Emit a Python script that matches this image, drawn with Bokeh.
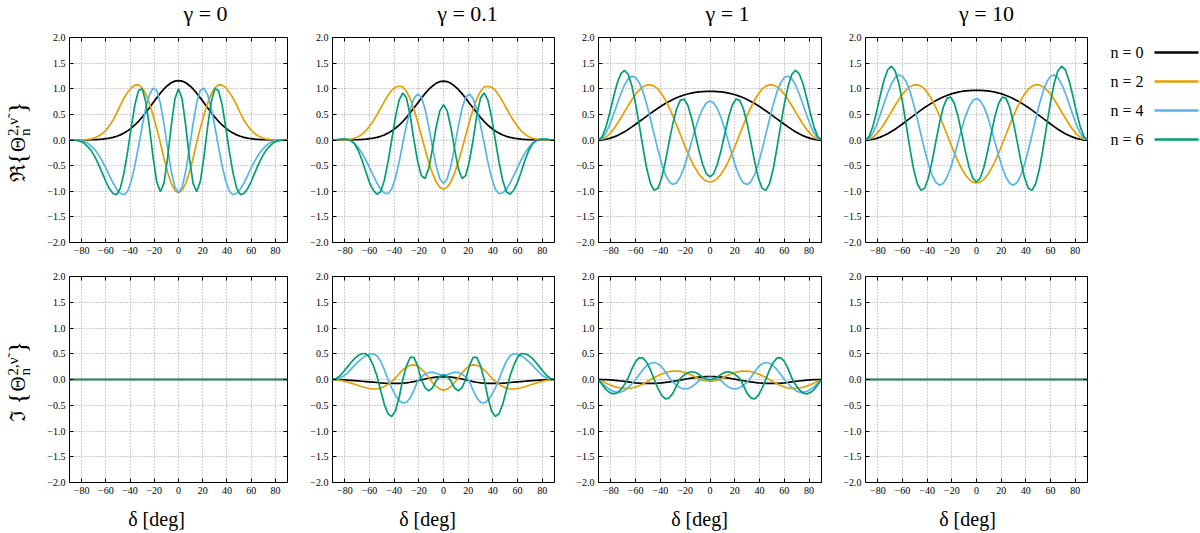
import math
from bokeh.plotting import figure
from bokeh.layouts import gridplot, column
from bokeh.models import Range1d, FixedTicker, LinearAxis
from bokeh.core.properties import value
from bokeh.embed import file_html
from bokeh.resources import INLINE

# sampling of the curves, deg
delta = list(range(-90, 91, 3))

gammas = ["0", "0.1", "1", "10"]
orders = ["n = 0", "n = 2", "n = 4", "n = 6"]
colors = ["#000000", "#E69F00", "#56B4E9", "#009E73"]

x_ticks = [-80, -60, -40, -20, 0, 20, 40, 60, 80]
y_ticks = [-2.0, -1.5, -1.0, -0.5, 0.0, 0.5, 1.0, 1.5, 2.0]

# real part, gamma = 0
re_g0_n0 = [0.0, 0.0, 0.0, 0.001, 0.002, 0.003, 0.005, 0.007, 0.011, 0.017, 0.025, 0.037, 0.052, 0.073, 0.100,
            0.135, 0.178, 0.231, 0.293, 0.365, 0.446, 0.535, 0.630, 0.726, 0.822, 0.914, 0.996, 1.064, 1.117, 1.149,
            1.16,
            1.149, 1.117, 1.064, 0.996, 0.914, 0.822, 0.726, 0.630, 0.535, 0.446, 0.365, 0.293, 0.231, 0.178, 0.135,
            0.100, 0.073, 0.052, 0.037, 0.025, 0.017, 0.011, 0.007, 0.005, 0.003, 0.002, 0.001, 0.0, 0.0, 0.0]
re_g0_n2 = [0.0, 0.0, 0.0, 0.001, 0.004, 0.011, 0.023, 0.044, 0.078, 0.125, 0.19, 0.28, 0.39, 0.53, 0.68,
            0.82, 0.93, 1.02, 1.07, 1.076, 1.018, 0.894, 0.714, 0.486, 0.228, -0.052, -0.360, -0.630, -0.846, -0.983,
            -1.03,
            -0.983, -0.846, -0.630, -0.360, -0.052, 0.228, 0.486, 0.714, 0.894, 1.018, 1.076, 1.07, 1.02, 0.93, 0.82,
            0.68, 0.53, 0.39, 0.28, 0.19, 0.125, 0.078, 0.044, 0.023, 0.011, 0.004, 0.001, 0.0, 0.0, 0.0]
re_g0_n4 = [0.0, 0.0, -0.004, -0.012, -0.03, -0.06, -0.121, -0.191, -0.287, -0.407, -0.546, -0.696, -0.84, -0.96, -1.04,
            -1.07, -1.000, -0.801, -0.497, -0.129, 0.264, 0.621, 0.883, 1.011, 0.970, 0.721, 0.315, -0.161, -0.606, -0.918,
            -1.03,
            -0.918, -0.606, -0.161, 0.315, 0.721, 0.970, 1.011, 0.883, 0.621, 0.264, -0.129, -0.497, -0.801, -1.000, -1.07,
            -1.04, -0.96, -0.84, -0.696, -0.546, -0.407, -0.287, -0.191, -0.121, -0.06, -0.03, -0.012, -0.004, 0.0, 0.0]
re_g0_n6 = [0.0, -0.002, -0.008, -0.025, -0.06, -0.127, -0.211, -0.329, -0.476, -0.643, -0.81, -0.952, -1.045, -1.067, -0.939,
            -0.641, -0.227, 0.250, 0.690, 0.965, 1.002, 0.741, 0.249, -0.335, -0.812, -1.01, -0.841, -0.352, 0.276, 0.799,
            1.0,
            0.799, 0.276, -0.352, -0.841, -1.01, -0.812, -0.335, 0.249, 0.741, 1.002, 0.965, 0.690, 0.250, -0.227, -0.641,
            -0.939, -1.067, -1.045, -0.952, -0.81, -0.643, -0.476, -0.329, -0.211, -0.127, -0.06, -0.025, -0.008, -0.002, 0.0]

# real part, gamma = 0.1
re_g1_n0 = [0.0, 0.0, 0.0, 0.001, 0.002, 0.003, 0.005, 0.007, 0.011, 0.017, 0.025, 0.037, 0.051, 0.072, 0.099,
            0.134, 0.176, 0.229, 0.290, 0.361, 0.442, 0.530, 0.624, 0.719, 0.814, 0.905, 0.986, 1.053, 1.106, 1.138,
            1.148,
            1.138, 1.106, 1.053, 0.986, 0.905, 0.814, 0.719, 0.624, 0.530, 0.442, 0.361, 0.290, 0.229, 0.176, 0.134,
            0.099, 0.072, 0.051, 0.037, 0.025, 0.017, 0.011, 0.007, 0.005, 0.003, 0.002, 0.001, 0.0, 0.0, 0.0]
re_g1_n2 = [0.0, 0.0, 0.0, 0.002, 0.006, 0.016, 0.035, 0.065, 0.115, 0.18, 0.27, 0.37, 0.49, 0.62, 0.75,
            0.87, 0.97, 1.03, 1.048, 1.034, 0.951, 0.805, 0.602, 0.359, 0.091, -0.176, -0.428, -0.646, -0.816, -0.923,
            -0.96,
            -0.923, -0.816, -0.646, -0.428, -0.176, 0.091, 0.359, 0.602, 0.805, 0.951, 1.034, 1.048, 1.03, 0.97, 0.87,
            0.75, 0.62, 0.49, 0.37, 0.27, 0.18, 0.115, 0.065, 0.035, 0.016, 0.006, 0.002, 0.0, 0.0, 0.0]
re_g1_n4 = [0.0, 0.005, 0.012, 0.018, 0.01, -0.02, -0.07, -0.15, -0.26, -0.39, -0.54, -0.69, -0.84, -0.96, -1.03,
            -1.048, -0.958, -0.742, -0.431, -0.063, 0.290, 0.593, 0.807, 0.898, 0.838, 0.612, 0.265, -0.133, -0.500, -0.757,
            -0.85,
            -0.757, -0.500, -0.133, 0.265, 0.612, 0.838, 0.898, 0.807, 0.593, 0.290, -0.063, -0.431, -0.742, -0.958, -1.048,
            -1.03, -0.96, -0.84, -0.69, -0.54, -0.39, -0.26, -0.15, -0.07, -0.02, 0.01, 0.018, 0.012, 0.005, 0.0]
re_g1_n6 = [0.0, 0.005, 0.012, 0.02, 0.015, -0.01, -0.08, -0.21, -0.40, -0.62, -0.83, -0.98, -1.057, -1.010, -0.790,
            -0.433, 0.0, 0.441, 0.776, 0.918, 0.818, 0.479, 0.0, -0.413, -0.694, -0.751, -0.558, -0.177, 0.244, 0.568,
            0.69,
            0.568, 0.244, -0.177, -0.558, -0.751, -0.694, -0.413, 0.0, 0.479, 0.818, 0.918, 0.776, 0.441, 0.0, -0.433,
            -0.790, -1.010, -1.057, -0.98, -0.83, -0.62, -0.40, -0.21, -0.08, -0.01, 0.015, 0.02, 0.012, 0.005, 0.0]

# real part, gamma = 1
re_g2_n0 = [0.0, 0.004, 0.014, 0.031, 0.055, 0.085, 0.121, 0.162, 0.207, 0.256, 0.307, 0.360, 0.413, 0.467, 0.520,
            0.572, 0.621, 0.668, 0.712, 0.753, 0.790, 0.823, 0.852, 0.877, 0.898, 0.915, 0.928, 0.938, 0.945, 0.949,
            0.95,
            0.949, 0.945, 0.938, 0.928, 0.915, 0.898, 0.877, 0.852, 0.823, 0.790, 0.753, 0.712, 0.668, 0.621, 0.572,
            0.520, 0.467, 0.413, 0.360, 0.307, 0.256, 0.207, 0.162, 0.121, 0.085, 0.055, 0.031, 0.014, 0.004, 0.0]
re_g2_n2 = [0.0, 0.014, 0.054, 0.120, 0.207, 0.311, 0.428, 0.551, 0.673, 0.789, 0.893, 0.978, 1.040, 1.074, 1.078,
            1.051, 0.991, 0.900, 0.780, 0.636, 0.473, 0.295, 0.111, -0.072, -0.246, -0.406, -0.547, -0.663, -0.749, -0.802,
            -0.82,
            -0.802, -0.749, -0.663, -0.547, -0.406, -0.246, -0.072, 0.111, 0.295, 0.473, 0.636, 0.780, 0.900, 0.991, 1.051,
            1.078, 1.074, 1.040, 0.978, 0.893, 0.789, 0.673, 0.551, 0.428, 0.311, 0.207, 0.120, 0.054, 0.014, 0.0]
re_g2_n4 = [0.0, 0.035, 0.136, 0.293, 0.487, 0.698, 0.901, 1.074, 1.194, 1.247, 1.221, 1.115, 0.934, 0.691, 0.405,
            0.101, -0.197, -0.464, -0.675, -0.814, -0.869, -0.837, -0.723, -0.539, -0.305, -0.043, 0.206, 0.429, 0.607, 0.721,
            0.76,
            0.721, 0.607, 0.429, 0.206, -0.043, -0.305, -0.539, -0.723, -0.837, -0.869, -0.814, -0.675, -0.464, -0.197, 0.101,
            0.405, 0.691, 0.934, 1.115, 1.221, 1.247, 1.194, 1.074, 0.901, 0.698, 0.487, 0.293, 0.136, 0.035, 0.0]
re_g2_n6 = [0.0, 0.066, 0.252, 0.523, 0.825, 1.102, 1.294, 1.360, 1.277, 1.047, 0.698, 0.279, -0.162, -0.567, -0.853,
            -0.983, -0.941, -0.738, -0.417, -0.036, 0.319, 0.605, 0.774, 0.801, 0.684, 0.444, 0.127, -0.194, -0.467, -0.654,
            -0.72,
            -0.654, -0.467, -0.194, 0.127, 0.444, 0.684, 0.801, 0.774, 0.605, 0.319, -0.036, -0.417, -0.738, -0.941, -0.983,
            -0.853, -0.567, -0.162, 0.279, 0.698, 1.047, 1.277, 1.360, 1.294, 1.102, 0.825, 0.523, 0.252, 0.066, 0.0]

# real part, gamma = 10
re_g3_n0 = [0.0, 0.004, 0.014, 0.032, 0.056, 0.087, 0.123, 0.165, 0.211, 0.261, 0.313, 0.367, 0.421, 0.476, 0.530,
            0.583, 0.633, 0.681, 0.726, 0.768, 0.806, 0.839, 0.869, 0.895, 0.916, 0.933, 0.947, 0.957, 0.964, 0.968,
            0.969,
            0.968, 0.964, 0.957, 0.947, 0.933, 0.916, 0.895, 0.869, 0.839, 0.806, 0.768, 0.726, 0.681, 0.633, 0.583,
            0.530, 0.476, 0.421, 0.367, 0.313, 0.261, 0.211, 0.165, 0.123, 0.087, 0.056, 0.032, 0.014, 0.004, 0.0]
re_g3_n2 = [0.0, 0.014, 0.054, 0.120, 0.207, 0.311, 0.428, 0.551, 0.673, 0.789, 0.893, 0.978, 1.040, 1.074, 1.078,
            1.051, 0.991, 0.900, 0.780, 0.636, 0.473, 0.295, 0.111, -0.074, -0.252, -0.416, -0.560, -0.679, -0.767, -0.821,
            -0.84,
            -0.821, -0.767, -0.679, -0.560, -0.416, -0.252, -0.074, 0.111, 0.295, 0.473, 0.636, 0.780, 0.900, 0.991, 1.051,
            1.078, 1.074, 1.040, 0.978, 0.893, 0.789, 0.673, 0.551, 0.428, 0.311, 0.207, 0.120, 0.054, 0.014, 0.0]
re_g3_n4 = [0.0, 0.036, 0.138, 0.298, 0.496, 0.711, 0.917, 1.093, 1.215, 1.269, 1.243, 1.135, 0.951, 0.703, 0.412,
            0.103, -0.200, -0.470, -0.684, -0.825, -0.880, -0.848, -0.732, -0.546, -0.309, -0.044, 0.220, 0.457, 0.647, 0.769,
            0.81,
            0.769, 0.647, 0.457, 0.220, -0.044, -0.309, -0.546, -0.732, -0.848, -0.880, -0.825, -0.684, -0.470, -0.200, 0.103,
            0.412, 0.703, 0.951, 1.135, 1.243, 1.269, 1.215, 1.093, 0.917, 0.711, 0.496, 0.298, 0.138, 0.036, 0.0]
re_g3_n6 = [0.0, 0.070, 0.267, 0.554, 0.874, 1.167, 1.370, 1.440, 1.352, 1.109, 0.739, 0.295, -0.162, -0.567, -0.853,
            -0.983, -0.941, -0.738, -0.417, -0.036, 0.335, 0.635, 0.812, 0.840, 0.718, 0.466, 0.133, -0.221, -0.532, -0.745,
            -0.82,
            -0.745, -0.532, -0.221, 0.133, 0.466, 0.718, 0.840, 0.812, 0.635, 0.335, -0.036, -0.417, -0.738, -0.941, -0.983,
            -0.853, -0.567, -0.162, 0.295, 0.739, 1.109, 1.352, 1.440, 1.370, 1.167, 0.874, 0.554, 0.267, 0.070, 0.0]

# imaginary part, gamma = 0.1
im_g1_n0 = [0.0, -0.001, -0.004, -0.008, -0.012, -0.017, -0.022, -0.028, -0.034, -0.040, -0.046, -0.052, -0.058, -0.064, -0.069,
            -0.073, -0.075, -0.075, -0.074, -0.071, -0.064, -0.054, -0.041, -0.025, -0.008, 0.009, 0.024, 0.036, 0.045, 0.049,
            0.050,
            0.049, 0.045, 0.036, 0.024, 0.009, -0.008, -0.025, -0.041, -0.054, -0.064, -0.071, -0.074, -0.075, -0.075, -0.073,
            -0.069, -0.064, -0.058, -0.052, -0.046, -0.040, -0.034, -0.028, -0.022, -0.017, -0.012, -0.008, -0.004, -0.001, 0.0]
im_g1_n2 = [0.0, -0.004, -0.015, -0.030, -0.049, -0.070, -0.093, -0.117, -0.140, -0.160, -0.175, -0.183, -0.184, -0.169, -0.137,
            -0.093, -0.038, 0.029, 0.112, 0.186, 0.242, 0.276, 0.285, 0.262, 0.207, 0.128, 0.033, -0.058, -0.134, -0.187,
            -0.205,
            -0.187, -0.134, -0.058, 0.033, 0.128, 0.207, 0.262, 0.285, 0.276, 0.242, 0.186, 0.112, 0.029, -0.038, -0.093,
            -0.137, -0.169, -0.184, -0.183, -0.175, -0.160, -0.140, -0.117, -0.093, -0.070, -0.049, -0.030, -0.015, -0.004, 0.0]
im_g1_n4 = [0.0, 0.008, 0.03, 0.065, 0.125, 0.20, 0.28, 0.35, 0.41, 0.46, 0.49, 0.50, 0.462, 0.354, 0.191,
            0.0, -0.163, -0.305, -0.407, -0.457, -0.443, -0.357, -0.212, -0.031, 0.051, 0.103, 0.136, 0.143, 0.120, 0.095,
            0.085,
            0.095, 0.120, 0.143, 0.136, 0.103, 0.051, -0.031, -0.212, -0.357, -0.443, -0.457, -0.407, -0.305, -0.163, 0.0,
            0.191, 0.354, 0.462, 0.50, 0.49, 0.46, 0.41, 0.35, 0.28, 0.20, 0.125, 0.065, 0.03, 0.008, 0.0]
im_g1_n6 = [0.0, 0.02, 0.07, 0.15, 0.24, 0.33, 0.41, 0.47, 0.50, 0.505, 0.429, 0.276, 0.073, -0.209, -0.482,
            -0.664, -0.719, -0.611, -0.349, 0.0, 0.265, 0.428, 0.428, 0.265, 0.0, -0.156, -0.22, -0.165, -0.026, 0.056,
            0.085,
            0.056, -0.026, -0.165, -0.22, -0.156, 0.0, 0.265, 0.428, 0.428, 0.265, 0.0, -0.349, -0.611, -0.719, -0.664,
            -0.482, -0.209, 0.073, 0.276, 0.429, 0.505, 0.50, 0.47, 0.41, 0.33, 0.24, 0.15, 0.07, 0.02, 0.0]

# imaginary part, gamma = 1
im_g2_n0 = [0.0, -0.001, -0.003, -0.007, -0.013, -0.020, -0.029, -0.038, -0.047, -0.056, -0.064, -0.070, -0.074, -0.076, -0.076,
            -0.074, -0.070, -0.064, -0.056, -0.047, -0.036, -0.024, -0.011, 0.002, 0.014, 0.026, 0.036, 0.045, 0.051, 0.054,
            0.055,
            0.054, 0.051, 0.045, 0.036, 0.026, 0.014, 0.002, -0.011, -0.024, -0.036, -0.047, -0.056, -0.064, -0.070, -0.074,
            -0.076, -0.076, -0.074, -0.070, -0.064, -0.056, -0.047, -0.038, -0.029, -0.020, -0.013, -0.007, -0.003, -0.001, 0.0]
im_g2_n2 = [0.0, -0.036, -0.070, -0.101, -0.128, -0.150, -0.165, -0.173, -0.174, -0.166, -0.146, -0.118, -0.083, -0.043, 0.0,
            0.038, 0.075, 0.107, 0.133, 0.152, 0.163, 0.165, 0.157, 0.141, 0.117, 0.086, 0.051, 0.013, -0.013, -0.029,
            -0.035,
            -0.029, -0.013, 0.013, 0.051, 0.086, 0.117, 0.141, 0.157, 0.165, 0.163, 0.152, 0.133, 0.107, 0.075, 0.038,
            0.0, -0.043, -0.083, -0.118, -0.146, -0.166, -0.174, -0.173, -0.165, -0.150, -0.128, -0.101, -0.070, -0.036, 0.0]
im_g2_n4 = [0.0, -0.073, -0.139, -0.193, -0.231, -0.249, -0.244, -0.212, -0.156, -0.083, 0.0, 0.103, 0.196, 0.269, 0.316,
            0.33, 0.306, 0.244, 0.151, 0.039, -0.048, -0.113, -0.160, -0.183, -0.179, -0.147, -0.093, -0.024, 0.015, 0.033,
            0.04,
            0.033, 0.015, -0.024, -0.093, -0.147, -0.179, -0.183, -0.160, -0.113, -0.048, 0.039, 0.151, 0.244, 0.306, 0.33,
            0.316, 0.269, 0.196, 0.103, 0.0, -0.083, -0.156, -0.212, -0.244, -0.249, -0.231, -0.193, -0.139, -0.073, 0.0]
im_g2_n6 = [0.0, -0.103, -0.192, -0.253, -0.279, -0.262, -0.198, -0.098, 0.031, 0.211, 0.351, 0.423, 0.415, 0.329, 0.182,
            0.0, -0.173, -0.307, -0.375, -0.361, -0.269, -0.117, 0.022, 0.084, 0.130, 0.15, 0.139, 0.100, 0.049, 0.006,
            -0.01,
            0.006, 0.049, 0.100, 0.139, 0.15, 0.130, 0.084, 0.022, -0.117, -0.269, -0.361, -0.375, -0.307, -0.173, 0.0,
            0.182, 0.329, 0.415, 0.423, 0.351, 0.211, 0.031, -0.098, -0.198, -0.262, -0.279, -0.253, -0.192, -0.103, 0.0]

# imaginary part is zero for gamma = 0 and gamma = 10
im_flat = [0.0] * len(delta)

real = [
    [re_g0_n0, re_g0_n2, re_g0_n4, re_g0_n6],
    [re_g1_n0, re_g1_n2, re_g1_n4, re_g1_n6],
    [re_g2_n0, re_g2_n2, re_g2_n4, re_g2_n6],
    [re_g3_n0, re_g3_n2, re_g3_n4, re_g3_n6],
]
imag = [
    [im_flat, im_flat, im_flat, im_flat],
    [im_g1_n0, im_g1_n2, im_g1_n4, im_g1_n6],
    [im_g2_n0, im_g2_n2, im_g2_n4, im_g2_n6],
    [im_flat, im_flat, im_flat, im_flat],
]
for group in real + imag:
    for ys in group:
        assert len(ys) == len(delta)

SERIF = "Liberation Serif"
W = 1200
left_border = [21, 37, 36, 36]
frame_w = [222, 222, 223, 222]
TOP = dict(border_top=11, frame=205, border_bottom=20)
BOT = dict(border_top=14, frame=206, border_bottom=20)
YLAB_W, LEG_W = 44, 105
TITLE_H, XLAB_H = 26, 31
title_x = [205, 467, 727, 986]
xlabel_x = [156, 427, 699, 967]


def minus(s):
    return s.replace("-", "\u2212")


def strip(width, height):
    # blank figure whose frame is the whole canvas, y measured from the top
    f = figure(width=width, height=height, x_range=Range1d(0, width), y_range=Range1d(height, 0),
               title=None, output_backend="svg", toolbar_location=None, tools="",
               x_axis_type=None, y_axis_type=None, min_border=0, outline_line_color=None)
    f.grid.visible = False
    return f


def side(width, s):
    # blank figure with the same frame rows as the panels, y in panel units
    f = figure(width=width, height=s["border_top"] + s["frame"] + s["border_bottom"],
               x_range=Range1d(0, width), y_range=Range1d(-2, 2), title=None,
               min_border_left=0, min_border_right=0,
               min_border_top=s["border_top"], min_border_bottom=s["border_bottom"],
               output_backend="svg", toolbar_location=None, tools="",
               x_axis_type=None, y_axis_type=None, outline_line_color=None)
    f.grid.visible = False
    return f


def style_axis(ax, ticks, labels):
    ax.ticker = FixedTicker(ticks=ticks)
    ax.axis_line_color = None
    ax.major_tick_in = 4
    ax.major_tick_out = 0
    ax.major_tick_line_color = "black"
    ax.minor_tick_line_color = None
    if labels is None:
        ax.major_label_overrides = {t: "" for t in ticks}
        ax.major_label_text_font_size = "0px"
        ax.major_label_standoff = 0
    else:
        ax.major_label_overrides = {t: minus(l) for t, l in zip(ticks, labels)}
        ax.major_label_text_font = SERIF
        ax.major_label_text_font_size = "10px"
        ax.major_label_text_color = "black"
        ax.major_label_standoff = 4


def panel(col, s, curves):
    p = figure(width=left_border[col] + frame_w[col] + 8,
               height=s["border_top"] + s["frame"] + s["border_bottom"],
               x_range=Range1d(-90, 90), y_range=Range1d(-2, 2), title=None,
               min_border_left=left_border[col], min_border_right=8,
               min_border_top=s["border_top"], min_border_bottom=s["border_bottom"],
               output_backend="svg", toolbar_location=None, tools="",
               background_fill_color="white", border_fill_color="white",
               outline_line_color="black", outline_line_width=1)
    p.add_layout(LinearAxis(), "right")
    p.add_layout(LinearAxis(), "above")
    style_axis(p.below[0], x_ticks, [str(t) for t in x_ticks])
    style_axis(p.left[0], y_ticks, [f"{t:.1f}" for t in y_ticks])
    style_axis(p.above[0], x_ticks, None)
    style_axis(p.right[0], y_ticks, None)

    p.xgrid.ticker = FixedTicker(ticks=x_ticks)
    p.ygrid.ticker = FixedTicker(ticks=y_ticks)
    p.grid.grid_line_color = "#9a9a9a"
    p.grid.grid_line_dash = "1 2"
    p.grid.grid_line_width = 1

    for ys, c in zip(curves, colors):
        p.line(delta, ys, line_color=c, line_width=1.7)
    return p


def ylabel_fig(part, s):
    # Re/Im { Theta_n^{2,nu~} }, written bottom to top; offsets in px from the frame centre
    f = side(YLAB_W, s)
    unit = 4 / s["frame"]
    pieces = [
        (part, -42, 5, "21px"),
        ("{", -25, 2, "26px"),
        ("Θ", -12, 5, "21px"),
        ("n", 4, 16, "15px"),
        ("2,ν̃", 4, 4, "15px"),
        ("}", 26, 2, "26px"),
    ]
    for text, off, x, size in pieces:
        f.text(x=[x], y=[off * unit], text=[text], angle=math.pi / 2, text_align="left",
               text_baseline="top", text_font=value(SERIF), text_font_size=size,
               text_color="black")
    return f


top_row = [panel(i, TOP, real[i]) for i in range(4)]
bottom_row = [panel(i, BOT, imag[i]) for i in range(4)]

# legend: label on the left, line sample on the right; rows in px below the frame top
leg = side(LEG_W, TOP)
unit = 4 / TOP["frame"]
rows_px = [15 + 29 * i for i in range(len(orders))]
leg.text(x=[48] * len(orders), y=[2 - (r - 9) * unit for r in rows_px], text=orders,
         text_align="right", text_baseline="top", text_font=value(SERIF),
         text_font_size="16px", text_color="black")
leg.segment(x0=[59] * len(orders), y0=[2 - r * unit for r in rows_px],
            x1=[103] * len(orders), y1=[2 - r * unit for r in rows_px],
            line_color=colors, line_width=2.5)

# column titles and the shared x label
titles = strip(W, TITLE_H)
titles.text(x=title_x, y=[0] * len(gammas), text=[f"γ = {g}" for g in gammas],
            text_align="center", text_baseline="top",
            text_font=value(SERIF), text_font_size="22px", text_color="black")
xlabels = strip(W, XLAB_H)
xlabels.text(x=xlabel_x, y=[5] * len(gammas), text=["δ [deg]"] * len(gammas),
             text_align="center", text_baseline="top",
             text_font=value(SERIF), text_font_size="20px", text_color="black")

grid = gridplot([[ylabel_fig("ℜ", TOP)] + top_row + [leg],
                 [ylabel_fig("ℑ", BOT)] + bottom_row + [None]],
                toolbar_location=None)
layout = column(titles, grid, xlabels)

open("out.html", "w").write(file_html(layout, INLINE))
